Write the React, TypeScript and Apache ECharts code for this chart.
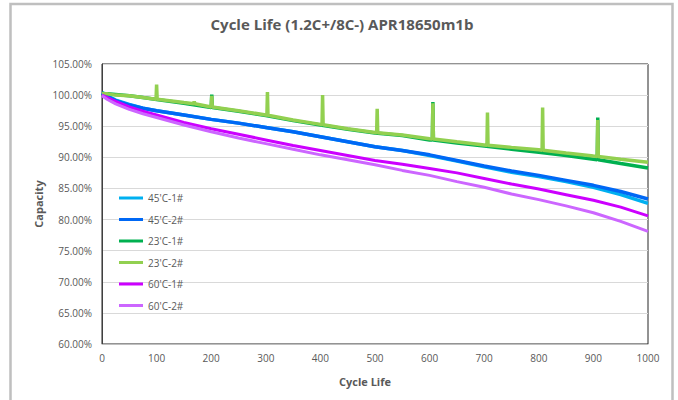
import React, { useEffect, useRef } from "react";
import * as echarts from "echarts";

const cycles = [0, 10, 25, 50, 75, 100, 150, 200, 250, 300, 350, 400, 450, 500, 550, 600, 650, 700, 750, 800, 850, 900, 950, 1000];

const seriesNames = ["45'C-1#", "45'C-2#", "23'C-1#", "23'C-2#", "60'C-1#", "60'C-2#"];
const seriesColors = ["#00B0F0", "#0068F5", "#00B050", "#92D050", "#CC00FF", "#CC66FF"];

const cap45_1 = [100.4, 99.9, 99.2, 98.5, 97.9, 97.5, 96.8, 96.1, 95.5, 94.8, 94.1, 93.3, 92.5, 91.7, 91.1, 90.3, 89.4, 88.5, 87.6, 86.9, 86.1, 85.2, 84.0, 82.6];
const cap45_2 = [100.3, 99.8, 99.1, 98.4, 97.9, 97.5, 96.8, 96.1, 95.5, 94.8, 94.1, 93.3, 92.5, 91.7, 91.1, 90.4, 89.5, 88.6, 87.8, 87.1, 86.3, 85.5, 84.5, 83.3];
const cap23_1 = [100.3, 100.2, 100.1, 99.9, 99.6, 99.3, 98.7, 98.0, 97.4, 96.7, 95.9, 95.2, 94.5, 93.9, 93.5, 92.8, 92.3, 91.8, 91.3, 90.8, 90.3, 89.7, 89.0, 88.3];
const cap23_2 = [100.2, 100.2, 100.0, 99.9, 99.6, 99.4, 98.8, 98.2, 97.5, 96.8, 96.0, 95.3, 94.6, 94.0, 93.6, 93.0, 92.5, 92.0, 91.6, 91.2, 90.7, 90.2, 89.7, 89.2];
const cap60_1 = [100.0, 99.6, 99.0, 98.1, 97.4, 96.8, 95.6, 94.6, 93.7, 92.8, 91.9, 91.1, 90.3, 89.5, 88.9, 88.2, 87.5, 86.6, 85.7, 84.9, 84.0, 83.1, 82.0, 80.6];
const cap60_2 = [99.9, 99.3, 98.6, 97.7, 97.0, 96.4, 95.2, 94.1, 93.1, 92.2, 91.3, 90.4, 89.6, 88.8, 87.9, 87.1, 86.1, 85.2, 84.1, 83.2, 82.2, 81.1, 79.7, 78.1];

// [cycle, baseline, peak]
const spikes23_1 = [[201, 98.0, 100.1], [606, 92.8, 98.9], [908, 89.6, 96.4]];
const spikes23_2 = [
  [100, 99.35, 101.7], [169, 98.6, 99.0], [201, 98.1, 99.9], [303, 96.75, 100.5], [404, 95.25, 100.0],
  [504, 93.95, 97.8], [606, 92.95, 98.7], [706, 91.95, 97.2], [807, 91.15, 98.0], [908, 90.15, 96.0],
];

const yTicks = { min: 60, max: 105, interval: 5 };
const xTicks = { min: 0, max: 1000, interval: 100 };

function buildData(base: number[], spikes: number[][]) {
  const pts: number[][] = [];
  cycles.forEach((c, i) => {
    if (!spikes.some((s) => Math.abs(s[0] - c) <= 1)) pts.push([c, base[i]]);
  });
  spikes.forEach(([c, b, p]) => {
    pts.push([c - 1, b], [c, p], [c + 1, b]);
  });
  pts.sort((a, b) => a[0] - b[0]);
  return pts;
}

const FONT = "Open Sans";

export default function App() {
  const ref = useRef<HTMLDivElement>(null);
  useEffect(() => {
    if (!ref.current) return;
    const chart = echarts.init(ref.current, undefined, { renderer: "svg" });
    const datasets = [
      buildData(cap45_1, []),
      buildData(cap45_2, []),
      buildData(cap23_1, spikes23_1),
      buildData(cap23_2, spikes23_2),
      buildData(cap60_1, []),
      buildData(cap60_2, []),
    ];
    const widths = [3.5, 3.5, 3.5, 3.5, 3, 3];
    chart.setOption({
      animation: false,
      backgroundColor: "#ffffff",
      textStyle: { fontFamily: FONT },
      grid: {
        left: 102,
        right: 30,
        top: 64,
        bottom: 56,
        show: true,
        borderColor: "#262626",
        borderWidth: 1,
        backgroundColor: "transparent",
      },
      graphic: [
        {
          type: "rect",
          shape: { x: 10.5, y: 4, width: 662, height: 420 },
          style: { fill: "none", stroke: "#bfbfbf", lineWidth: 2.5 },
          silent: true,
        },
        {
          type: "text",
          x: 342,
          y: 24,
          style: {
            text: "Cycle Life (1.2C+/8C-) APR18650m1b",
            font: `bold 15px '${FONT}'`,
            fill: "#595959",
            textAlign: "center",
            textVerticalAlign: "middle",
          },
        },
        {
          type: "text",
          x: 365,
          y: 381,
          style: {
            text: "Cycle Life",
            font: `bold 11px '${FONT}'`,
            fill: "#595959",
            textAlign: "center",
            textVerticalAlign: "middle",
          },
        },
        {
          type: "text",
          x: 38,
          y: 204,
          rotation: Math.PI / 2,
          style: {
            text: "Capacity",
            font: `bold 11px '${FONT}'`,
            fill: "#595959",
            textAlign: "center",
            textVerticalAlign: "middle",
          },
        },
      ],
      legend: {
        orient: "vertical",
        left: 119,
        top: 191,
        padding: 0,
        itemWidth: 24,
        itemHeight: 3,
        itemGap: 7.5,
        icon: "rect",
        selectedMode: false,
        data: seriesNames,
        textStyle: { color: "#595959", fontSize: 10, fontFamily: FONT, lineHeight: 14 },
      },
      xAxis: {
        type: "value",
        min: xTicks.min,
        max: xTicks.max,
        interval: xTicks.interval,
        axisLine: { show: true, lineStyle: { color: "#bfbfbf", width: 1 } },
        axisTick: { show: false },
        splitLine: { show: false },
        axisLabel: {
          color: "#595959",
          fontSize: 10,
          margin: 9,
          fontFamily: FONT,
          formatter: (v: number) => String(v),
        },
      },
      yAxis: {
        type: "value",
        min: yTicks.min,
        max: yTicks.max,
        interval: yTicks.interval,
        axisLine: { show: true, lineStyle: { color: "#404040", width: 1 } },
        axisTick: { show: false },
        splitLine: { show: true, lineStyle: { color: "#d9d9d9", width: 1 } },
        axisLabel: {
          color: "#595959",
          fontSize: 10,
          margin: 10,
          fontFamily: FONT,
          formatter: (v: number) => v.toFixed(2) + "%",
        },
      },
      series: seriesNames.map((name, i) => ({
        name,
        type: "line",
        data: datasets[i],
        showSymbol: false,
        symbol: "none",
        lineStyle: { color: seriesColors[i], width: widths[i] },
        itemStyle: { color: seriesColors[i] },
        emphasis: { disabled: true },
      })),
    });
    return () => chart.dispose();
  }, []);
  return (
    <div
      ref={ref}
      style={{ position: "fixed", left: 0, top: 0, width: 678, height: 400, background: "#fff" }}
    />
  );
}
